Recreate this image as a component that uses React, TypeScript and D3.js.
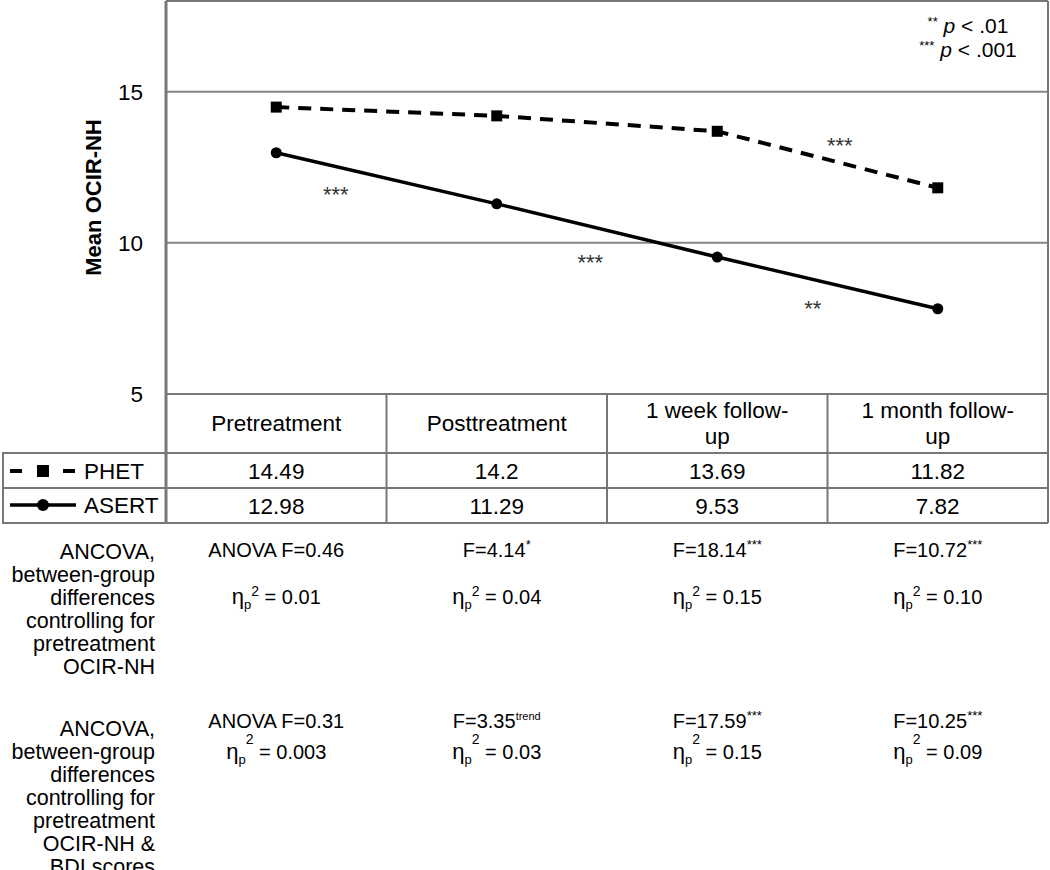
import React from 'react';
import * as d3 from 'd3';

// ---------- data ----------
const categories = ['Pretreatment', 'Posttreatment', '1 week follow-\nup', '1 month follow-\nup'];
const phetValues = [14.49, 14.2, 13.69, 11.82];
const asertValues = [12.98, 11.29, 9.53, 7.82];
const phetLabels = ['14.49', '14.2', '13.69', '11.82'];
const asertLabels = ['12.98', '11.29', '9.53', '7.82'];
const yTicks = [5, 10, 15];
const yDomain = [5, 18];
// significance stars: position as fractional category index + value
const starNotes = [
  { text: '***', at: 0.27, value: 11.78 },
  { text: '***', at: 1.424, value: 9.53 },
  { text: '**', at: 2.433, value: 8.01 },
  { text: '***', at: 2.556, value: 13.4 },
];
const sigLegend = [
  { stars: '**', text: ' < .01' },
  { stars: '***', text: ' < .001' },
];
const block1Label = ['ANCOVA,', 'between-group', 'differences', 'controlling for', 'pretreatment', 'OCIR-NH'];
const block2Label = ['ANCOVA,', 'between-group', 'differences', 'controlling for', 'pretreatment', 'OCIR-NH &', 'BDI scores'];
const block1F = ['ANOVA F=0.46', 'F=4.14', 'F=18.14', 'F=10.72'];
const block1FSup = ['', '*', '***', '***'];
const block1Eta = ['0.01', '0.04', '0.15', '0.10'];
const block2F = ['ANOVA F=0.31', 'F=3.35', 'F=17.59', 'F=10.25'];
const block2FSup = ['', 'trend', '***', '***'];
const block2Eta = ['0.003', '0.03', '0.15', '0.09'];

// ---------- layout ----------
const W = 1050, H = 870;
const plotLeft = 166, plotRight = 1048, plotTop = 1, plotBottom = 394;
const headerBottom = 453, row1Bottom = 488, row2Bottom = 523, legendLeft = 2;
const FONT = '"Liberation Sans", Arial, sans-serif';
const gridColor = '#868686';
const borderColor = '#777777';

export default function App() {
  const x = d3.scaleBand<number>().domain(d3.range(categories.length)).range([plotLeft, plotRight]);
  const cx = (i: number) => (x(i) as number) + x.bandwidth() / 2;
  const xf = d3.scaleLinear().domain([0, categories.length - 1]).range([cx(0), cx(categories.length - 1)]);
  const y = d3.scaleLinear().domain(yDomain).range([plotBottom, plotTop]);

  const line = d3.line<number>().x((_, i) => cx(i)).y((d) => y(d));

  const colEdges = [...categories.map((_, i) => x(i) as number), plotRight];

  const fs = 22.5;
  const lowFs = 20;
  const labelFs = 21.5;

  const renderEta = (val: string, i: number, baseline: number, supRaise: number) => (
    <text key={'eta' + i} x={cx(i)} y={baseline} textAnchor="middle" fontSize={lowFs} fontFamily={FONT} fill="#000">
      <tspan fontSize={22}>η</tspan>
      <tspan fontSize={13} dy={5}>p</tspan>
      <tspan fontSize={14} dy={-supRaise}>2</tspan>
      <tspan dy={supRaise - 5}>{' = ' + val}</tspan>
    </text>
  );

  const renderF = (main: string, sup: string, i: number, baseline: number) => (
    <text key={'f' + i} x={cx(i)} y={baseline} textAnchor="middle" fontSize={lowFs} fontFamily={FONT} fill="#000">
      <tspan>{main}</tspan>
      {sup ? <tspan fontSize={sup === 'trend' ? 11 : 13} dy={-8}>{sup}</tspan> : null}
    </text>
  );

  return (
    <svg width={W} height={H} style={{ position: 'absolute', left: 0, top: 0, background: '#fff' }} fontFamily={FONT}>
      <rect x={0} y={0} width={W} height={H} fill="#fff" />
      {/* gridlines */}
      {yTicks.filter((t) => t > yDomain[0]).map((t) => (
        <line key={'g' + t} x1={plotLeft} x2={plotRight} y1={y(t)} y2={y(t)} stroke={gridColor} strokeWidth={2} />
      ))}
      {/* y tick labels */}
      {yTicks.map((t) => (
        <text key={'t' + t} x={143} y={y(t) + 8} textAnchor="end" fontSize={fs} fill="#000">{t}</text>
      ))}
      {/* y title */}
      <text transform={`translate(101,${(plotTop + plotBottom) / 2}) rotate(-90)`} textAnchor="middle" fontSize={22} fontWeight="bold" fill="#000">Mean OCIR-NH</text>

      {/* plot border */}
      <line x1={plotLeft} x2={plotRight} y1={plotTop} y2={plotTop} stroke={borderColor} strokeWidth={2} />
      <line x1={plotRight} x2={plotRight} y1={plotTop} y2={row2Bottom} stroke={borderColor} strokeWidth={2} />
      <line x1={plotLeft} x2={plotLeft} y1={plotTop} y2={row2Bottom} stroke={borderColor} strokeWidth={3} />

      {/* table lines */}
      <line x1={plotLeft} x2={plotRight} y1={plotBottom} y2={plotBottom} stroke={borderColor} strokeWidth={2} />
      {[headerBottom, row1Bottom, row2Bottom].map((yy) => (
        <line key={'h' + yy} x1={legendLeft} x2={plotRight} y1={yy} y2={yy} stroke={borderColor} strokeWidth={2} />
      ))}
      <line x1={legendLeft + 1} x2={legendLeft + 1} y1={headerBottom} y2={row2Bottom} stroke={borderColor} strokeWidth={2} />
      {colEdges.slice(1, -1).map((e, i) => (
        <line key={'v' + i} x1={e} x2={e} y1={plotBottom} y2={row2Bottom} stroke={borderColor} strokeWidth={2} />
      ))}

      {/* header labels */}
      {categories.map((c, i) => {
        const lines = c.split('\n');
        const mid = (plotBottom + headerBottom) / 2;
        const lh = 26;
        return (
          <text key={'c' + i} textAnchor="middle" fontSize={fs} fill="#000">
            {lines.map((l, j) => (
              <tspan key={j} x={cx(i)} y={mid + (j - (lines.length - 1) / 2) * lh + 7.5}>{l}</tspan>
            ))}
          </text>
        );
      })}
      {/* value rows */}
      {phetLabels.map((v, i) => (
        <text key={'pv' + i} x={cx(i)} y={(headerBottom + row1Bottom) / 2 + 8} textAnchor="middle" fontSize={fs} fill="#000">{v}</text>
      ))}
      {asertLabels.map((v, i) => (
        <text key={'av' + i} x={cx(i)} y={(row1Bottom + row2Bottom) / 2 + 8} textAnchor="middle" fontSize={fs} fill="#000">{v}</text>
      ))}

      {/* legend cells */}
      <line x1={10} x2={76} y1={471} y2={471} stroke="#000" strokeWidth={4} strokeDasharray="12,41" />
      <rect x={37} y={465} width={12} height={12} fill="#000" />
      <text x={84} y={479} fontSize={fs} fill="#000">PHET</text>
      <line x1={10} x2={76} y1={505} y2={505} stroke="#000" strokeWidth={3.5} />
      <circle cx={43} cy={505} r={6} fill="#000" />
      <text x={84} y={513} fontSize={fs} fill="#000">ASERT</text>

      {/* series lines */}
      <path d={line(phetValues) || ''} fill="none" stroke="#000" strokeWidth={4} strokeDasharray="13,9" />
      <path d={line(asertValues) || ''} fill="none" stroke="#000" strokeWidth={3.5} />
      {phetValues.map((v, i) => (
        <rect key={'pm' + i} x={cx(i) - 5.5} y={y(v) - 5.5} width={11} height={11} fill="#000" />
      ))}
      {asertValues.map((v, i) => (
        <circle key={'am' + i} cx={cx(i)} cy={y(v)} r={5.5} fill="#000" />
      ))}

      {/* significance stars */}
      {starNotes.map((s, i) => (
        <text key={'s' + i} x={xf(s.at)} y={y(s.value) + 13} textAnchor="middle" fontSize={22} fill="#333">{s.text}</text>
      ))}

      {/* significance legend */}
      {sigLegend.map((s, i) => (
        <text key={'sl' + i} x={968} y={33 + i * 24} textAnchor="middle" fontSize={21} fill="#000">
          <tspan fontSize={13} dy={-7}>{s.stars}</tspan>
          <tspan dy={7}>{' '}</tspan>
          <tspan fontStyle="italic">p</tspan>
          <tspan>{s.text}</tspan>
        </text>
      ))}

      {/* lower block 1 */}
      <text textAnchor="end" fontSize={labelFs} fill="#000">
        {block1Label.map((l, j) => (
          <tspan key={j} x={155} y={559 + j * 23}>{l}</tspan>
        ))}
      </text>
      {block1F.map((f, i) => renderF(f, block1FSup[i], i, 557))}
      {block1Eta.map((v, i) => renderEta(v, i, 604, 13))}

      {/* lower block 2 */}
      <text textAnchor="end" fontSize={labelFs} fill="#000">
        {block2Label.map((l, j) => (
          <tspan key={j} x={155} y={736 + j * 23}>{l}</tspan>
        ))}
      </text>
      {block2F.map((f, i) => renderF(f, block2FSup[i], i, 728))}
      {block2Eta.map((v, i) => renderEta(v, i, 759, 20))}
    </svg>
  );
}
